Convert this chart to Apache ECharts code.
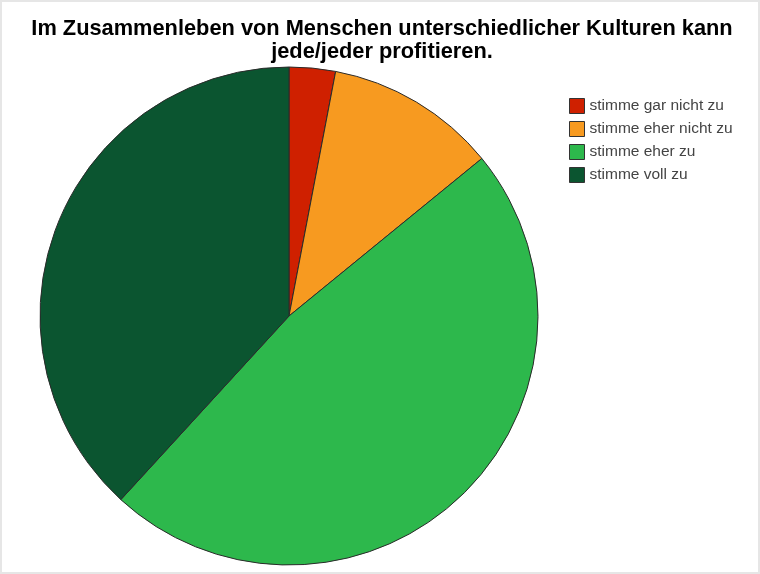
<!DOCTYPE html>
<html><head><meta charset="utf-8">
<script src="https://cdn.jsdelivr.net/npm/echarts@6/dist/echarts.min.js"></script>
<style>
html,body{margin:0;padding:0;background:#fff;}
#wrap{position:absolute;left:0;top:0;width:756px;height:570px;border:2px solid #e6e6e6;}
#c{width:756px;height:570px;}
</style></head><body>
<div id="wrap"><div id="c"></div></div>
<script>
const titleText = "Im Zusammenleben von Menschen unterschiedlicher Kulturen kann\njede/jeder profitieren.";
const categories = ["stimme gar nicht zu", "stimme eher nicht zu", "stimme eher zu", "stimme voll zu"];
const values = [3.0, 11.1, 47.7, 38.2];
const colors = ["#cf2000", "#f79a20", "#2db84c", "#0b5530"];

const chart = echarts.init(document.getElementById('c'), null, {renderer: 'canvas'});
chart.setOption({
  animation: false,
  title: {
    text: titleText,
    left: 375, top: 10, textAlign: 'center',
    textStyle: {fontFamily: 'Liberation Sans', fontWeight: 'bold', fontSize: 21.8, color: '#000', lineHeight: 23}
  },
  legend: {
    orient: 'vertical', left: 562, top: 91,
    itemWidth: 15, itemHeight: 15, itemGap: 7,
    icon: 'rect',
    itemStyle: {borderColor: '#333', borderWidth: 1},
    textStyle: {fontFamily: 'Liberation Sans', fontSize: 15.5, color: '#444'},
    data: categories
  },
  series: [{
    type: 'pie',
    center: [287, 314],
    radius: 249,
    startAngle: 90,
    clockwise: true,
    label: {show: false},
    labelLine: {show: false},
    itemStyle: {borderColor: '#2a2a2a', borderWidth: 1},
    emphasis: {disabled: true},
    data: categories.map((n, i) => ({name: n, value: values[i], itemStyle: {color: colors[i]}}))
  }]
});
</script>
</body></html>
